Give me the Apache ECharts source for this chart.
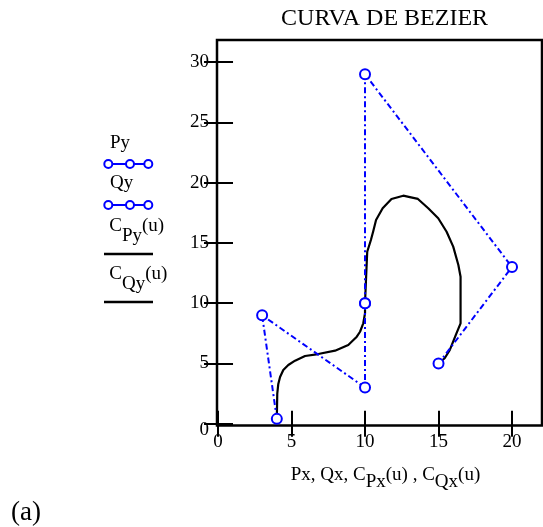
<!DOCTYPE html>
<html>
<head>
<meta charset="utf-8">
<script src="https://cdn.jsdelivr.net/npm/echarts@6/dist/echarts.min.js"></script>
<style>
  html, body { margin: 0; padding: 0; background: #fff; }
  #main { width: 543px; height: 527px; }
</style>
</head>
<body>
<div id="main"></div>
<script>
// control points (polygons)
const px = [4, 3, 10, 10]
const py = [0.4, 9, 3, 10]
const qx = [10, 10, 20, 15]
const qy = [10, 29, 13, 5]

// bezier curves
const cpx = [4, 4.03, 4.1, 4.22, 4.44, 4.78, 5.24, 5.92, 6.82, 7.96, 8.86, 9.44, 9.66, 9.88, 10, 10]
const cpy = [0.4, 2.5, 3.3, 3.88, 4.46, 4.87, 5.23, 5.62, 5.78, 6.06, 6.53, 7.22, 7.63, 8.33, 9.16, 10]
const cqx = [10, 10.08, 10.15, 10.4, 10.55, 10.75, 11.2, 11.8, 12.6, 13.05, 13.6, 14.3, 14.98, 15.55, 16, 16.35, 16.5, 16.5, 16.22, 15.77, 15.42, 15]
const cqy = [10, 12.34, 14.27, 15.24, 15.93, 16.9, 17.88, 18.65, 18.92, 18.8, 18.65, 17.88, 17.05, 15.93, 14.69, 13.17, 12.2, 8.33, 7.5, 6.12, 5.43, 5]

const xTicks = [0, 5, 10, 15, 20]
const yTicks = [0, 5, 10, 15, 20, 25, 30]

const FONT = 'Liberation Serif'
const BLUE = '#0000ff'

function pairs(xs, ys) {
  return xs.map((x, i) => [x, ys[i]])
}

const ctx = document.createElement('canvas').getContext('2d')
function measure(t, size) {
  ctx.font = size + 'px "' + FONT + '"'
  return ctx.measureText(t).width
}

// text with subscripts, parts = [[text, isSub], ...]
function subText(x, y, parts, size, drop, center) {
  let w = 0
  parts.forEach(p => { w += measure(p[0], size) })
  let cx = center ? x - w / 2 : x
  return parts.map(p => {
    const el = label(cx, p[1] ? y + drop : y, p[0], size, 'left')
    cx += measure(p[0], size)
    return el
  })
}

function label(x, y, text, size, align) {
  return {
    type: 'text',
    x,
    y,
    silent: true,
    style: {
      text,
      font: size + 'px "' + FONT + '"',
      fill: '#000',
      align,
      verticalAlign: 'middle',
      textAlign: align,
      textVerticalAlign: 'middle',
    },
  }
}

// legend row of little circles
function markerRow(y) {
  const xs = [108.3, 130, 148.3]
  const els = []
  for (let i = 0; i < xs.length - 1; i++) {
    els.push({ type: 'line', silent: true, shape: { x1: xs[i] + 4, y1: y, x2: xs[i + 1] - 4, y2: y }, style: { stroke: BLUE, lineWidth: 2 } })
  }
  xs.forEach(x => {
    els.push({ type: 'circle', silent: true, shape: { cx: x, cy: y, r: 4 }, style: { stroke: BLUE, lineWidth: 2, fill: '#fff' } })
  })
  return els
}

function hline(y) {
  return { type: 'line', silent: true, shape: { x1: 104, y1: y, x2: 153, y2: y }, style: { stroke: '#000', lineWidth: 2.5 } }
}

const tickStyle = { color: '#000', width: 2 }
const labelStyle = { color: '#000', fontFamily: FONT, fontSize: 19 }

const myChart = echarts.init(document.getElementById('main'), null, { renderer: 'canvas' })

const option = {
  animation: false,
  backgroundColor: '#fff',
  grid: {
    left: 217,
    top: 40,
    width: 325,
    height: 385.5,
    outerBoundsMode: 'none', // keep the frame where it is set
    show: true,
    borderColor: '#000',
    borderWidth: 2.5,
  },
  xAxis: [{
    type: 'value',
    position: 'bottom',
    min: -0.07,
    max: 22.04,
    axisLine: { show: false },
    splitLine: { show: false },
    axisTick: { inside: true, length: 13, lineStyle: tickStyle, customValues: xTicks },
    axisLabel: { ...labelStyle, margin: 7, customValues: xTicks },
  }, {
    type: 'value',
    position: 'top',
    min: -0.07,
    max: 22.04,
    axisLine: { show: false },
    splitLine: { show: false },
    axisTick: { inside: true, length: 13, lineStyle: tickStyle, customValues: xTicks },
    axisLabel: { show: false },
  }],
  yAxis: [{
    type: 'value',
    position: 'left',
    min: -0.15,
    max: 31.84,
    axisLine: { show: false },
    splitLine: { show: false },
    axisTick: { inside: true, length: 15, lineStyle: tickStyle, customValues: yTicks },
    axisLabel: {
      ...labelStyle,
      margin: 8,
      customValues: yTicks,
      // the zero label sits a little lower in the original
      formatter: v => (v === 0 ? '{z|0}' : String(v)),
      rich: { z: { ...labelStyle, padding: [13, 0, 0, 0] } },
    },
  }, {
    type: 'value',
    position: 'right',
    min: -0.15,
    max: 31.84,
    axisLine: { show: false },
    splitLine: { show: false },
    axisTick: { inside: true, length: 14, lineStyle: tickStyle, customValues: yTicks },
    // labels kept (transparent) so the right-hand ticks get drawn
    axisLabel: { ...labelStyle, color: 'rgba(0,0,0,0)', customValues: yTicks },
  }],
  series: [{
    name: 'CPy',
    type: 'line',
    data: pairs(cpx, cpy),
    symbol: 'none',
    lineStyle: { color: '#000', width: 2.2 },
    z: 1,
  }, {
    name: 'CQy',
    type: 'line',
    data: pairs(cqx, cqy),
    symbol: 'none',
    lineStyle: { color: '#000', width: 2.2 },
    z: 1,
  }, {
    name: 'Py',
    type: 'line',
    data: pairs(px, py),
    symbol: 'circle',
    symbolSize: 10,
    itemStyle: { color: '#fff', borderColor: BLUE, borderWidth: 2 },
    lineStyle: { color: BLUE, width: 2, type: [6, 3, 2, 3] },
    z: 2,
  }, {
    name: 'Qy',
    type: 'line',
    data: pairs(qx, qy),
    symbol: 'circle',
    symbolSize: 10,
    itemStyle: { color: '#fff', borderColor: BLUE, borderWidth: 2 },
    lineStyle: { color: BLUE, width: 2, type: [6, 3, 2, 3] },
    z: 2,
  }],
  graphic: [
    label(384.6, 19, 'CURVA DE BEZIER', 24, 'center'),
    ...subText(385.5, 475, [['Px, Qx, C', false], ['Px', true], ['(u) , C', false], ['Qx', true], ['(u)', false]], 19, 7, true),
    // legend
    label(110, 143.3, 'Py', 19, 'left'),
    ...markerRow(164),
    label(110, 183.3, 'Qy', 19, 'left'),
    ...markerRow(205),
    ...subText(109.3, 226, [['C', false], ['Py', true], ['(u)', false]], 19, 10, false),
    hline(254),
    ...subText(109.3, 274, [['C', false], ['Qy', true], ['(u)', false]], 19, 10, false),
    hline(302),
    label(11, 513, '(a)', 27, 'left'),
  ],
}

myChart.setOption(option)
</script>
</body>
</html>
